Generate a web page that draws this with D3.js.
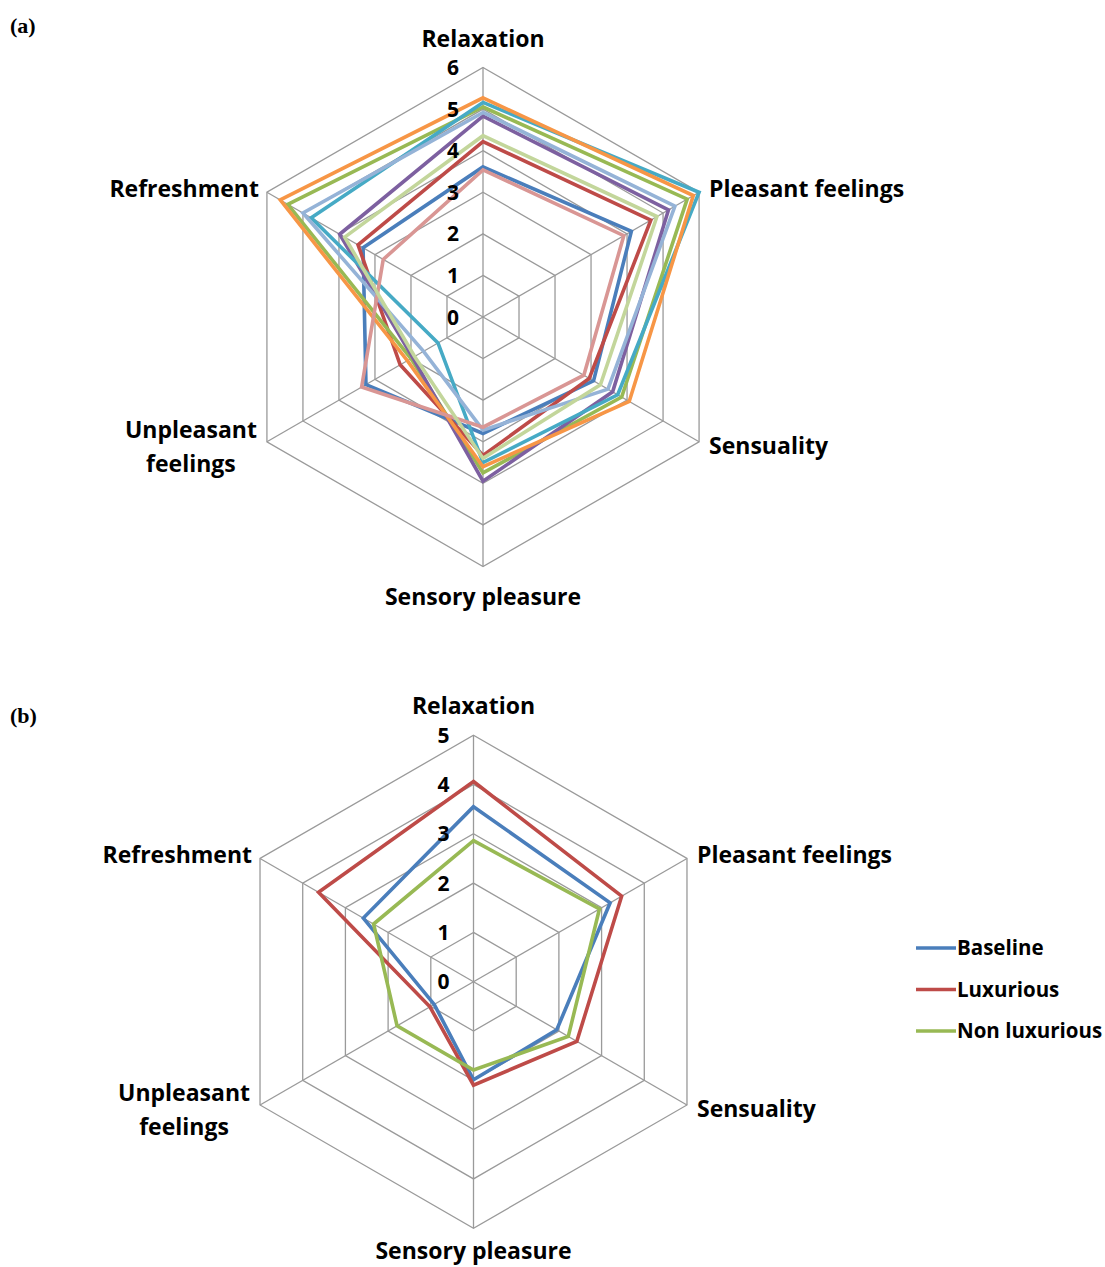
<!DOCTYPE html>
<html>
<head>
<meta charset="utf-8">
<script src="https://cdn.jsdelivr.net/npm/d3@7"></script>
<style>
  body { margin: 0; background: #fff; }
  text { font-family: "Open Sans", sans-serif; font-weight: 700; fill: #000; }
  .panel { font-family: "Liberation Serif", serif; font-weight: 700; }
</style>
</head>
<body>
<div id="my_dataviz"></div>
<script>
const axes = ["Relaxation", "Pleasant feelings", "Sensuality", "Sensory pleasure", "Unpleasant feelings", "Refreshment"];

// panel (a): nine unnamed series, values in axis order
const seriesA = [
  [3.61, 4.12, 3.07, 2.80, 3.25, 3.33],
  [4.22, 4.66, 2.95, 3.33, 2.30, 3.47],
  [5.05, 5.67, 3.85, 3.75, 2.00, 5.42],
  [4.83, 5.15, 3.60, 3.95, 1.95, 3.98],
  [5.16, 6.00, 3.74, 3.50, 1.25, 4.77],
  [5.27, 5.84, 4.06, 3.60, 2.10, 5.63],
  [4.92, 5.33, 3.47, 2.72, 1.65, 5.00],
  [3.54, 3.91, 2.80, 2.65, 3.37, 2.77],
  [4.36, 4.83, 3.26, 3.40, 1.90, 3.84]
];
const colorsA = ["#4A7EBB", "#BE4B48", "#98B954", "#7D60A0", "#46AAC5", "#F79646", "#95B3D7", "#D99694", "#C3D69B"];
const ticksA = [0, 1, 2, 3, 4, 5, 6];

// panel (b)
const namesB = ["Baseline", "Luxurious", "Non luxurious"];
const baseline = [3.55, 3.20, 1.95, 1.99, 0.92, 2.58];
const luxurious = [4.06, 3.47, 2.42, 2.10, 1.02, 3.63];
const nonLuxurious = [2.86, 2.95, 2.22, 1.79, 1.79, 2.34];
const colorsB = ["#4A7EBB", "#BE4B48", "#98B954"];
const ticksB = [0, 1, 2, 3, 4, 5];

const svg = d3.select("#my_dataviz")
  .append("svg")
  .attr("width", 1105)
  .attr("height", 1267);

function drawRadar(cx, cy, R, ticks, series, colors, lab) {
  const max = ticks[ticks.length - 1];
  const r = d3.scaleLinear().domain([0, max]).range([0, R]);
  const ang = d3.scaleLinear().domain([0, axes.length]).range([0, 2 * Math.PI]);
  const g = svg.append("g").attr("transform", `translate(${cx},${cy})`);

  const pt = (i, v) => [r(v) * Math.sin(ang(i)), -r(v) * Math.cos(ang(i))];

  // grid rings
  const ring = d3.lineRadial()
    .angle((d, i) => ang(i))
    .radius(d => r(d))
    .curve(d3.curveLinearClosed);
  ticks.slice(1).forEach(t => {
    g.append("path")
      .attr("d", ring(axes.map(() => t)))
      .attr("fill", "none")
      .attr("stroke", "#9a9a9a")
      .attr("stroke-width", 1.3);
  });
  // spokes
  axes.forEach((a, i) => {
    const [x, y] = pt(i, max);
    g.append("line")
      .attr("x1", 0).attr("y1", 0).attr("x2", x).attr("y2", y)
      .attr("stroke", "#9a9a9a")
      .attr("stroke-width", 1.3);
  });

  // series
  series.forEach((vals, k) => {
    g.append("path")
      .attr("d", ring(vals))
      .attr("fill", "none")
      .attr("stroke", colors[k])
      .attr("stroke-width", 3.6)
      .attr("stroke-linejoin", "miter");
  });

  // tick labels
  g.selectAll("text.tick")
    .data(ticks)
    .enter()
    .append("text")
    .attr("class", "tick")
    .attr("x", -30)
    .attr("y", d => -r(d))
    .attr("dy", "0.36em")
    .attr("text-anchor", "middle")
    .style("font-size", "21px")
    .text(d => d);

  // axis labels
  const fs = "23px";
  let [x, y] = pt(0, max);
  g.append("text").attr("x", x).attr("y", y - lab.top).attr("dy", "0.36em")
    .attr("text-anchor", "middle").style("font-size", fs).text(axes[0]);
  [x, y] = pt(1, max);
  g.append("text").attr("x", x + 10).attr("y", y - 4).attr("dy", "0.36em")
    .attr("text-anchor", "start").style("font-size", fs).text(axes[1]);
  [x, y] = pt(2, max);
  g.append("text").attr("x", x + 10).attr("y", y + 4).attr("dy", "0.36em")
    .attr("text-anchor", "start").style("font-size", fs).text(axes[2]);
  [x, y] = pt(3, max);
  g.append("text").attr("x", x).attr("y", y + lab.bottom).attr("dy", "0.36em")
    .attr("text-anchor", "middle").style("font-size", fs).text(axes[3]);
  [x, y] = pt(4, max);
  const un = g.append("text").attr("text-anchor", "middle").style("font-size", fs);
  un.append("tspan").attr("x", x - 76).attr("y", y - 12).attr("dy", "0.36em").text("Unpleasant");
  un.append("tspan").attr("x", x - 76).attr("y", y + 22).attr("dy", "0.36em").text("feelings");
  [x, y] = pt(5, max);
  g.append("text").attr("x", x - 8).attr("y", y - 4).attr("dy", "0.36em")
    .attr("text-anchor", "end").style("font-size", fs).text(axes[5]);
}

drawRadar(483, 317, 249.5, ticksA, seriesA, colorsA, { top: 29, bottom: 30 });
drawRadar(473.5, 981.7, 246.5, ticksB, [baseline, luxurious, nonLuxurious], colorsB, { top: 29, bottom: 23 });

// panel letters
svg.append("text").attr("class", "panel").attr("x", 10).attr("y", 33).style("font-size", "22px").text("(a)");
svg.append("text").attr("class", "panel").attr("x", 10).attr("y", 723).style("font-size", "22px").text("(b)");

// legend for (b)
const legend = svg.append("g").attr("transform", "translate(916,948)");
namesB.forEach((n, i) => {
  const row = legend.append("g").attr("transform", `translate(0,${i * 41.5})`);
  row.append("line").attr("x1", 0).attr("x2", 40).attr("y1", 0).attr("y2", 0)
    .attr("stroke", colorsB[i]).attr("stroke-width", 3.4);
  row.append("text").attr("x", 41).attr("y", 0).attr("dy", "0.36em")
    .style("font-size", "20.5px").text(n);
});
</script>
</body>
</html>
